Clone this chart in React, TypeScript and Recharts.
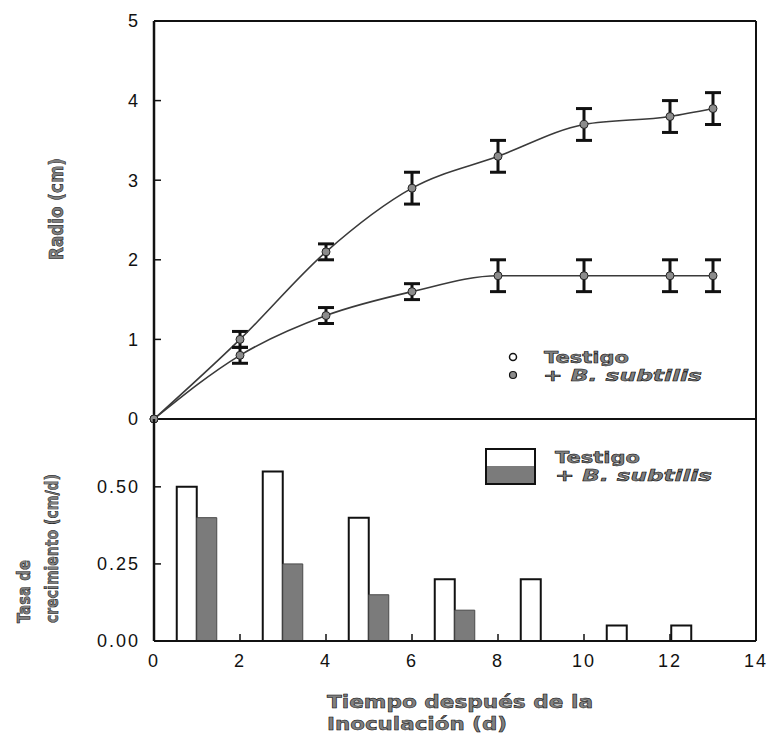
import { ComposedChart, Line, Bar, XAxis, YAxis, ErrorBar, Legend } from 'recharts'

// Radio de la colonia (cm) por día
const days = [0, 2, 4, 6, 8, 10, 12, 13]
const radioTestigo = [0, 1.0, 2.1, 2.9, 3.3, 3.7, 3.8, 3.9]
const errTestigo = [0, 0.1, 0.1, 0.2, 0.2, 0.2, 0.2, 0.2]
const radioSubtilis = [0, 0.8, 1.3, 1.6, 1.8, 1.8, 1.8, 1.8]
const errSubtilis = [0, 0.1, 0.1, 0.1, 0.2, 0.2, 0.2, 0.2]

// Tasa de crecimiento (cm/d) por intervalo
const intervalMids = [1, 3, 5, 7, 9, 11, 12.5]
const tasaTestigo = [0.5, 0.55, 0.4, 0.2, 0.2, 0.05, 0.05]
const tasaSubtilis = [0.4, 0.25, 0.15, 0.1, 0, 0, 0]

const dayTicks = [0, 2, 4, 6, 8, 10, 12, 14]
const radioTicks = [0, 1, 2, 3, 4, 5]
const tasaTicks = [0, 0.25, 0.5]

const radioData = days.map((d, i) => ({
  day: d,
  testigo: radioTestigo[i],
  testigoErr: errTestigo[i],
  subtilis: radioSubtilis[i],
  subtilisErr: errSubtilis[i],
}))

const tasaData = intervalMids.map((m, i) => ({
  mid: m,
  testigo: tasaTestigo[i],
  subtilis: tasaSubtilis[i],
}))

const INK = '#111'
const tickFont = { fontFamily: "'Liberation Sans', Arial, sans-serif", fontSize: 18, fill: INK, stroke: 'none', letterSpacing: 2 }
const tickLine = { stroke: INK, strokeWidth: 1.5 }
const outlined = {
  fontFamily: "'DejaVu Sans', sans-serif",
  fontWeight: 700,
  fill: '#808080',
  stroke: '#000',
  strokeWidth: 0.5,
}
const dotStyle = { r: 4, fill: '#8c8c8c', stroke: '#222', strokeWidth: 1 }

function TopLegend() {
  return (
    <svg width={220} height={42}>
      <circle cx={13} cy={12} r={3.5} fill="#fff" stroke={INK} strokeWidth={1.5} />
      <circle cx={13} cy={30} r={3.5} fill="#8c8c8c" stroke={INK} strokeWidth={1.2} />
      <text x={44} y={18} fontSize={16} textLength={85} lengthAdjust="spacingAndGlyphs" {...outlined}>Testigo</text>
      <text x={43} y={36} fontSize={16} textLength={159} lengthAdjust="spacingAndGlyphs" {...outlined}>
        +  <tspan fontStyle="italic">B.  subtilis</tspan>
      </text>
    </svg>
  )
}

function BottomLegend() {
  return (
    <svg width={240} height={42}>
      <rect x={2} y={2} width={49} height={17} fill="#fff" />
      <rect x={2} y={19} width={49} height={18} fill="#7b7b7b" />
      <rect x={2} y={2} width={49} height={35} fill="none" stroke={INK} strokeWidth={2} />
      <text x={71} y={16} fontSize={16} textLength={85} lengthAdjust="spacingAndGlyphs" {...outlined}>Testigo</text>
      <text x={71} y={34} fontSize={16} textLength={157} lengthAdjust="spacingAndGlyphs" {...outlined}>
        +  <tspan fontStyle="italic">B.  subtilis</tspan>
      </text>
    </svg>
  )
}

export default function App() {
  return (
    <div style={{ position: 'absolute', left: 0, top: 0, width: 771, height: 736, background: '#fff' }}>
      <div style={{ position: 'absolute', left: 0, top: 0 }}>
        <ComposedChart width={771} height={430} data={radioData} margin={{ top: 20, right: 14, bottom: 10, left: 0 }}>
          <XAxis dataKey="day" type="number" domain={[0, 14]} ticks={dayTicks} tick={false} height={1}
            tickSize={-7} stroke={INK} strokeWidth={2} tickLine={tickLine} />
          <XAxis xAxisId="top" orientation="top" type="number" domain={[0, 14]} ticks={dayTicks} tick={false} tickLine={false}
            height={1} stroke={INK} strokeWidth={2} />
          <YAxis type="number" domain={[0, 5]} ticks={radioTicks} width={154} tickSize={-7} tickMargin={21} tick={tickFont}
            stroke={INK} strokeWidth={2.5} tickLine={tickLine} />
          <YAxis yAxisId="right" orientation="right" type="number" domain={[0, 5]} ticks={[1, 2, 3, 4]} width={1} tick={false}
            tickSize={-7} stroke={INK} strokeWidth={2} tickLine={tickLine} />
          <Line dataKey="testigo" type="monotone" stroke="#3a3a3a" strokeWidth={1.6} dot={dotStyle} isAnimationActive={false}>
            <ErrorBar dataKey="testigoErr" direction="y" width={8} strokeWidth={3} stroke={INK} />
          </Line>
          <Line dataKey="subtilis" type="monotone" stroke="#3a3a3a" strokeWidth={1.6} dot={dotStyle} isAnimationActive={false}>
            <ErrorBar dataKey="subtilisErr" direction="y" width={8} strokeWidth={3} stroke={INK} />
          </Line>
          <Legend layout="vertical" align="center" verticalAlign="middle" content={() => <TopLegend />}
            wrapperStyle={{ left: 500, top: 345, width: 220, height: 42 }} />
        </ComposedChart>
      </div>
      <div style={{ position: 'absolute', left: 0, top: 419 }}>
        <ComposedChart width={771} height={317} data={tasaData} margin={{ top: 0, right: 14, bottom: 65, left: 0 }} barSize={20} barGap={0}>
          <XAxis dataKey="mid" type="number" domain={[0, 14]} ticks={dayTicks} height={30} tickSize={-7} tickMargin={20} tick={tickFont}
            stroke={INK} strokeWidth={2} tickLine={tickLine} />
          <YAxis type="number" domain={[0, 0.72]} ticks={tasaTicks} tickFormatter={(v: number) => v.toFixed(2)} width={154}
            tickSize={-7} tickMargin={21} tick={tickFont} stroke={INK} strokeWidth={2.5} tickLine={tickLine} />
          <YAxis yAxisId="right" orientation="right" type="number" domain={[0, 0.72]} ticks={[0.25, 0.5]} width={1} tick={false}
            tickSize={-7} stroke={INK} strokeWidth={2} tickLine={tickLine} />
          <Bar dataKey="testigo" fill="#fff" stroke={INK} strokeWidth={2} isAnimationActive={false} />
          <Bar dataKey="subtilis" fill="#7b7b7b" stroke="#4a4a4a" strokeWidth={1} isAnimationActive={false} />
          <Legend layout="vertical" align="center" verticalAlign="middle" content={() => <BottomLegend />}
            wrapperStyle={{ left: 484, top: 28, width: 240, height: 42 }} />
        </ComposedChart>
      </div>
      <svg width={771} height={736} style={{ position: 'absolute', left: 0, top: 0, pointerEvents: 'none' }}>
        <text transform="rotate(-90 63 209)" x={63} y={209} textAnchor="middle" fontSize={19} textLength={102} lengthAdjust="spacingAndGlyphs" {...outlined}>Radio (cm)</text>
        <text transform="rotate(-90 30 623)" x={30} y={623} fontSize={18} textLength={63} lengthAdjust="spacingAndGlyphs" {...outlined}>Tasa de</text>
        <text transform="rotate(-90 58 623)" x={58} y={623} fontSize={18} textLength={149} lengthAdjust="spacingAndGlyphs" {...outlined}>crecimiento (cm/d)</text>
        <text x={327} y={708} fontSize={18} textLength={266} lengthAdjust="spacingAndGlyphs" {...outlined}>Tiempo después de la</text>
        <text x={327} y={730} fontSize={18} textLength={180} lengthAdjust="spacingAndGlyphs" {...outlined}>Inoculación (d)</text>
      </svg>
    </div>
  )
}
